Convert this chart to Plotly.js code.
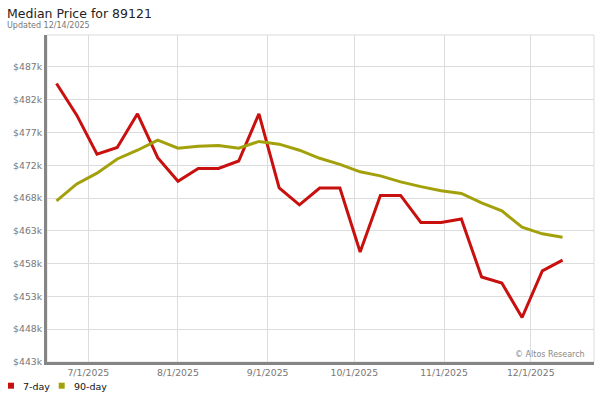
<!DOCTYPE html>
<html>
<head>
<meta charset="utf-8">
<script src="https://cdn.plot.ly/plotly-3.0.1.min.js"></script>
<style>
html,body{margin:0;padding:0;background:#fff;}
#chart{width:600px;height:400px;}
</style>
</head>
<body>
<div id="chart"></div>
<script>
// ---- data ----
const dates = [
  '2025-06-20','2025-06-27','2025-07-04','2025-07-11','2025-07-18','2025-07-25',
  '2025-08-01','2025-08-08','2025-08-15','2025-08-22','2025-08-29','2025-09-05',
  '2025-09-12','2025-09-19','2025-09-26','2025-10-03','2025-10-10','2025-10-17',
  '2025-10-24','2025-10-31','2025-11-07','2025-11-14','2025-11-21','2025-11-28',
  '2025-12-05','2025-12-12'
];
const price7day = [
  484500, 479800, 474000, 475000, 480000, 473500,
  470000, 471900, 471900, 473000, 480000, 469000,
  466500, 469000, 469000, 459500, 467900, 467900,
  463900, 463900, 464400, 455800, 454900, 449800,
  456700, 458300
];
const price90day = [
  467100, 469600, 471200, 473300, 474600, 476100,
  474900, 475200, 475300, 474900, 475900, 475500,
  474600, 473400, 472500, 471400, 470800, 469900,
  469200, 468600, 468200, 466800, 465600, 463200,
  462200, 461700
];
const yTickLabels = ['$443k','$448k','$453k','$458k','$463k','$468k','$472k','$477k','$482k','$487k'];
const yTickStart = 443200;
const yTickStep = 4860;
const yTickVals = yTickLabels.map((_, i) => yTickStart + i * yTickStep);

const seriesNames = ['7-day', '90-day'];
const colors = ['#c8100f', '#a3a10b'];

// ---- helpers for pixel -> paper ----
const M = {l: 47, r: 6, t: 35, b: 38};
const PW = 600 - M.l - M.r, PH = 400 - M.t - M.b;
const px = x => (x - M.l) / PW;
const py = y => (400 - M.b - y) / PH;

const font = 'DejaVu Sans, Verdana, sans-serif';

const traces = [
  {x: dates, y: price7day, name: seriesNames[0], type: 'scatter', mode: 'lines',
   line: {color: colors[0], width: 3}, hoverinfo: 'skip'},
  {x: dates, y: price90day, name: seriesNames[1], type: 'scatter', mode: 'lines',
   line: {color: colors[1], width: 3}, hoverinfo: 'skip'}
];

const layout = {
  width: 600, height: 400,
  margin: M,
  paper_bgcolor: '#fff', plot_bgcolor: '#fff',
  showlegend: false,
  font: {family: font, size: 9.3, color: '#777'},
  xaxis: {
    type: 'date',
    range: ['2025-06-16 17:00', '2025-12-22 21:00'],
    tick0: '2025-07-01', dtick: 'M1',
    tickformat: '%-m/%-d/%Y',
    showgrid: true, gridcolor: '#dcdcdc', gridwidth: 1,
    showline: true, linecolor: '#858585', linewidth: 3,
    ticks: '', zeroline: false,
    tickfont: {family: font, size: 9.3, color: '#777'}
  },
  yaxis: {
    range: [yTickStart, yTickStart + 9.976 * yTickStep],
    tickmode: 'array', tickvals: yTickVals, ticktext: yTickLabels,
    showgrid: true, gridcolor: '#dcdcdc', gridwidth: 1,
    showline: true, linecolor: '#858585', linewidth: 3,
    ticks: '', zeroline: false,
    tickfont: {family: font, size: 9.3, color: '#777'}
  },
  shapes: [
    {type: 'rect', xref: 'paper', yref: 'paper', x0: 0, x1: 1, y0: 0, y1: 1,
     line: {color: '#dcdcdc', width: 1}, layer: 'below'},
    {type: 'rect', xref: 'paper', yref: 'paper', x0: px(8), x1: px(14), y0: py(388.7), y1: py(382.7),
     fillcolor: colors[0], line: {width: 0}},
    {type: 'rect', xref: 'paper', yref: 'paper', x0: px(58.7), x1: px(64.7), y0: py(388.7), y1: py(382.7),
     fillcolor: colors[1], line: {width: 0}}
  ],
  annotations: [
    {text: 'Median Price for 89121', xref: 'paper', yref: 'paper', x: px(6), y: py(13.5),
     xanchor: 'left', yanchor: 'middle', showarrow: false, borderpad: 0,
     font: {family: font, size: 12.5, color: '#222'}},
    {text: 'Updated 12/14/2025', xref: 'paper', yref: 'paper', x: px(6), y: py(25),
     xanchor: 'left', yanchor: 'middle', showarrow: false, borderpad: 0,
     font: {family: font, size: 8, color: '#777'}},
    {text: '\u00a9 Altos Research', xref: 'paper', yref: 'paper', x: px(587), y: py(354),
     xanchor: 'right', yanchor: 'middle', showarrow: false,
     font: {family: font, size: 8, color: '#888'}},
    {text: seriesNames[0], xref: 'paper', yref: 'paper', x: px(20.7), y: py(386),
     xanchor: 'left', yanchor: 'middle', showarrow: false,
     font: {family: font, size: 9.5, color: '#111'}},
    {text: seriesNames[1], xref: 'paper', yref: 'paper', x: px(71.7), y: py(386),
     xanchor: 'left', yanchor: 'middle', showarrow: false,
     font: {family: font, size: 9.5, color: '#111'}}
  ]
};

Plotly.newPlot('chart', traces, layout, {staticPlot: true, displayModeBar: false});
</script>
</body>
</html>
